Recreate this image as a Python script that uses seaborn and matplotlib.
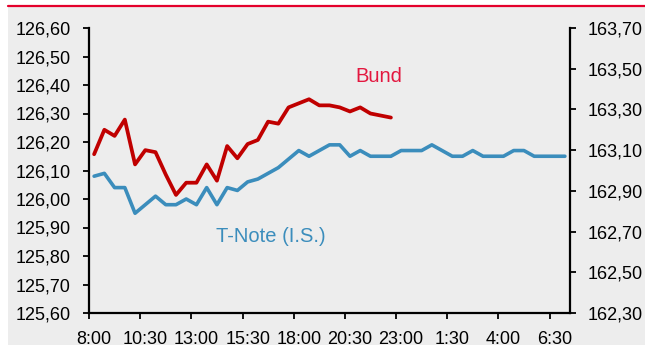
import matplotlib
matplotlib.use("Agg")
import matplotlib.pyplot as plt
from matplotlib.patches import Rectangle
from matplotlib.lines import Line2D
from matplotlib.ticker import FixedLocator, FuncFormatter
import seaborn as sns
import pandas as pd

# Half-hourly session times (8:00 to 7:00 next day)
times = ["8:00", "8:30", "9:00", "9:30", "10:00", "10:30", "11:00", "11:30",
         "12:00", "12:30", "13:00", "13:30", "14:00", "14:30", "15:00", "15:30",
         "16:00", "16:30", "17:00", "17:30", "18:00", "18:30", "19:00", "19:30",
         "20:00", "20:30", "21:00", "21:30", "22:00", "22:30", "23:00", "23:30",
         "0:00", "0:30", "1:00", "1:30", "2:00", "2:30", "3:00", "3:30",
         "4:00", "4:30", "5:00", "5:30", "6:00", "6:30", "7:00"]

# T-Note future (left scale)
tnote = [126.08, 126.09, 126.04, 126.04, 125.95, 125.98, 126.01, 125.98,
         125.98, 126.00, 125.98, 126.04, 125.98, 126.04, 126.03, 126.06,
         126.07, 126.09, 126.11, 126.14, 126.17, 126.15, 126.17, 126.19,
         126.19, 126.15, 126.17, 126.15, 126.15, 126.15, 126.17, 126.17,
         126.17, 126.19, 126.17, 126.15, 126.15, 126.17, 126.15, 126.15,
         126.15, 126.17, 126.17, 126.15, 126.15, 126.15, 126.15]

# Bund future (right scale), European session only
bund = [163.08, 163.20, 163.17, 163.25, 163.03, 163.10, 163.09, 162.98,
        162.88, 162.94, 162.94, 163.03, 162.95, 163.12, 163.06, 163.13,
        163.15, 163.24, 163.23, 163.31, 163.33, 163.35, 163.32, 163.32,
        163.31, 163.29, 163.31, 163.28, 163.27, 163.26]

left_ticks = [125.6, 125.7, 125.8, 125.9, 126.0, 126.1, 126.2, 126.3, 126.4, 126.5, 126.6]
right_ticks = [162.3, 162.5, 162.7, 162.9, 163.1, 163.3, 163.5, 163.7]

BG = "#EDEDED"
RED_LINE = "#C00000"
RED_TEXT = "#E3173F"
BLUE = "#3B8DBC"

sns.set_theme(style="white")
plt.rcParams["font.family"] = ["Liberation Sans", "DejaVu Sans"]

fig = plt.figure(figsize=(6.45, 3.47), dpi=100)
fig.patch.set_facecolor("white")
# grey panel and red rule across the top
fig.patches.append(Rectangle((8 / 645, 2 / 347), 637 / 645, 338 / 347,
                             transform=fig.transFigure, facecolor=BG,
                             edgecolor="none", zorder=-5))
fig.lines.append(Line2D([8 / 645, 1], [1 - 6 / 347, 1 - 6 / 347],
                        transform=fig.transFigure, color="#E4002B", lw=1.6,
                        zorder=-4))

ax = fig.add_axes([89 / 645, 1 - 313 / 347, (570 - 89) / 645, (313 - 28) / 347])
ax.set_facecolor("none")
ax2 = ax.twinx()
ax2.set_facecolor("none")

df_t = pd.DataFrame({"pos": range(len(tnote)), "value": tnote})
df_b = pd.DataFrame({"pos": range(len(bund)), "value": bund})

sns.lineplot(data=df_t, x="pos", y="value", ax=ax, color=BLUE, lw=2.6)
sns.lineplot(data=df_b, x="pos", y="value", ax=ax2, color=RED_LINE, lw=2.7)

n = len(times)
ax.set_xlim(-0.5, n - 0.5)
ax.set_ylim(left_ticks[0], left_ticks[-1])
ax2.set_ylim(right_ticks[0], right_ticks[-1])

fmt = FuncFormatter(lambda v, p: f"{v:.2f}".replace(".", ","))
ax.yaxis.set_major_locator(FixedLocator(left_ticks))
ax.yaxis.set_major_formatter(fmt)
ax2.yaxis.set_major_locator(FixedLocator(right_ticks))
ax2.yaxis.set_major_formatter(fmt)

label_pos = list(range(0, n, 5))
ax.set_xticks(label_pos)
ax.set_xticklabels([times[i] for i in label_pos])
ax.set_xticks([i - 0.5 for i in label_pos], minor=True)

for a in (ax, ax2):
    a.set_xlabel("")
    a.set_ylabel("")
    a.grid(False)
    for s in a.spines.values():
        s.set_color("black")
        s.set_linewidth(1.6)
    a.spines["top"].set_visible(False)

ax.spines["right"].set_visible(False)
ax2.spines["left"].set_visible(False)
ax2.spines["bottom"].set_visible(False)

ax.tick_params(axis="y", direction="out", length=4, width=1.3, pad=9,
               labelsize=13, colors="black", left=True)
ax2.tick_params(axis="y", direction="out", length=4, width=1.3, pad=9,
                labelsize=13, colors="black", right=True)
ax.tick_params(axis="x", which="major", length=0, pad=13, labelsize=13,
               colors="black")
ax.tick_params(axis="x", which="minor", direction="out", length=4,
               width=1.3, color="black", bottom=True)

ax.text(27.8, 126.43, "Bund", color=RED_TEXT, fontsize=14.5,
        ha="center", va="center")
ax.text(17.3, 125.87, "T-Note (I.S.)", color=BLUE, fontsize=14.5,
        ha="center", va="center")

fig.savefig("out.png", dpi=100, facecolor=fig.get_facecolor())
